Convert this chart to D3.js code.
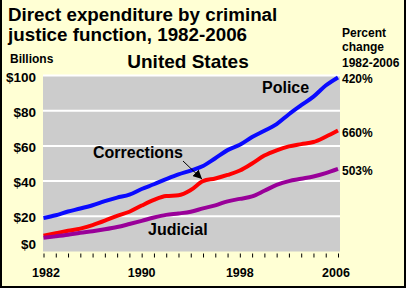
<!DOCTYPE html>
<html>
<head>
<meta charset="utf-8">
<script src="https://cdn.jsdelivr.net/npm/d3@7"></script>
<style>
  html, body { margin: 0; padding: 0; background: #ffffd4; }
  svg { display: block; font-family: "Liberation Sans", Arial, sans-serif; }
</style>
</head>
<body>
<div id="chart"></div>
<script>
// Données (milliards de dollars)
const annees = d3.range(1982, 2007);
const police = [19.0, 20.6, 22.7, 24.4, 26.3, 28.6, 30.6, 32.3, 35.5, 38.2, 41.1, 43.8, 46.0, 48.6, 53.0, 57.6, 60.6, 65.0, 68.6, 72.4, 78.0, 83.1, 88.0, 94.3, 98.9];
const corrections = [9.0, 10.4, 11.8, 13.0, 15.0, 17.5, 20.3, 22.6, 26.1, 29.3, 31.5, 31.9, 34.9, 40.0, 41.5, 43.5, 46.0, 50.0, 54.5, 57.5, 59.7, 61.0, 62.2, 65.2, 68.7];
const judicial = [7.8, 8.6, 9.5, 10.6, 11.5, 12.6, 13.9, 15.6, 17.4, 19.3, 20.8, 21.6, 22.6, 24.5, 26.2, 28.5, 29.9, 31.3, 34.5, 37.8, 40.0, 41.3, 42.6, 44.5, 46.9];
const seriesNoms = ["Police", "Corrections", "Judicial"];
const seriesCouleurs = ["#0a0aff", "#ff0000", "#990099"];
const pourcentages = ["420%", "660%", "503%"];
const ticksY = [0, 20, 40, 60, 80, 100];
const ticksAnnees = [1982, 1990, 1998, 2006];

const largeur = 406;
const hauteur = 288;

const svg = d3.select("#chart").append("svg")
    .attr("width", largeur)
    .attr("height", hauteur);

// Fond et bordure
svg.append("rect")
    .attr("width", largeur).attr("height", hauteur)
    .attr("fill", "#ffffd4");
svg.append("path")
    .attr("d", `M1,0 V${hauteur - 1} H${largeur - 1} V0`)
    .attr("fill", "none")
    .attr("stroke", "#000")
    .attr("stroke-width", 2);

// Echelles
const x = d3.scaleLinear().domain([1982, 2006]).range([43.5, 338]);
const y = d3.scaleLinear().domain([0, 100]).range([251.5, 75.5]);

// Zone grise
svg.append("rect")
    .attr("x", 43).attr("y", y(100))
    .attr("width", 340 - 43).attr("height", y(0) - y(100))
    .attr("fill", "#cccccc");

// Lignes de grille
svg.append("g")
    .selectAll("line")
    .data(ticksY.filter(d => d > 0))
    .enter()
    .append("line")
    .attr("x1", 43).attr("x2", 340)
    .attr("y1", d => y(d)).attr("y2", d => y(d))
    .attr("stroke", "#fff")
    .attr("stroke-width", 2);

// Etiquettes axe Y
svg.append("g")
    .selectAll("text")
    .data(ticksY)
    .enter()
    .append("text")
    .attr("x", 36)
    .attr("y", d => Math.min(y(d) + 6, 249))
    .attr("text-anchor", "end")
    .style("font-size", "13.5px")
    .style("font-weight", "bold")
    .text(d => "$" + d);

// Axe X (graduations)
const axeX = d3.axisBottom(x)
    .tickValues(annees)
    .tickSize(4)
    .tickSizeOuter(0)
    .tickFormat("");
const gAxe = svg.append("g")
    .attr("transform", `translate(0, 253.5)`)
    .call(axeX);
gAxe.select(".domain").remove();
gAxe.selectAll(".tick line").attr("stroke", "#000");

svg.append("g")
    .selectAll("text")
    .data(ticksAnnees)
    .enter()
    .append("text")
    .attr("x", d => x(d) + (d === 1982 ? 2.5 : (d === 2006 ? -2 : 0)))
    .attr("y", 276.5)
    .attr("text-anchor", "middle")
    .style("font-size", "12.5px")
    .style("font-weight", "bold")
    .text(d => d);

// Courbes
const ligne = d3.line()
    .x((d, i) => x(annees[i]))
    .y(d => y(d))
    .curve(d3.curveMonotoneX);

const donnees = [police, corrections, judicial];
svg.append("g")
    .selectAll("path")
    .data(donnees)
    .enter()
    .append("path")
    .attr("d", ligne)
    .attr("fill", "none")
    .attr("stroke", (d, i) => seriesCouleurs[i])
    .attr("stroke-width", 4);

// Etiquettes des séries
const positionsNoms = [[262, 93], [93, 158], [148, 235]];
svg.append("g")
    .selectAll("text")
    .data(seriesNoms)
    .enter()
    .append("text")
    .attr("x", (d, i) => positionsNoms[i][0])
    .attr("y", (d, i) => positionsNoms[i][1])
    .style("font-size", "16px")
    .style("font-weight", "bold")
    .text(d => d);

// Flèche Corrections
svg.append("defs").append("marker")
    .attr("id", "fleche")
    .attr("viewBox", "0 0 10 10")
    .attr("refX", 10).attr("refY", 5)
    .attr("markerWidth", 9).attr("markerHeight", 9)
    .attr("markerUnits", "userSpaceOnUse")
    .attr("orient", "auto")
    .append("path")
    .attr("d", "M0,0 L10,5 L0,10 Z")
    .attr("fill", "#000");
svg.append("line")
    .attr("x1", 183).attr("y1", 161)
    .attr("x2", x(1995) - 1).attr("y2", y(corrections[13]) - 2)
    .attr("stroke", "#000")
    .attr("stroke-width", 1)
    .attr("marker-end", "url(#fleche)");

// Pourcentages
const derniers = donnees.map(s => s[s.length - 1]);
svg.append("g")
    .selectAll("text")
    .data(pourcentages)
    .enter()
    .append("text")
    .attr("x", 342)
    .attr("y", (d, i) => y(derniers[i]) + 6)
    .style("font-size", "12px")
    .style("font-weight", "bold")
    .text(d => d);

// Titres
svg.append("text")
    .attr("x", 8).attr("y", 20.5)
    .style("font-size", "18.8px")
    .style("font-weight", "bold")
    .text("Direct expenditure by criminal");
svg.append("text")
    .attr("x", 8).attr("y", 40.5)
    .style("font-size", "18.8px")
    .style("font-weight", "bold")
    .text("justice function, 1982-2006");

svg.append("text")
    .attr("x", 188).attr("y", 68)
    .attr("text-anchor", "middle")
    .style("font-size", "19px")
    .style("font-weight", "bold")
    .text("United States");

svg.append("text")
    .attr("x", 10).attr("y", 62.5)
    .style("font-size", "12px")
    .style("font-weight", "bold")
    .text("Billions");

const legende = svg.append("text")
    .style("font-size", "12px")
    .style("font-weight", "bold");
["Percent", "change", "1982-2006"].forEach((t, i) => {
    legende.append("tspan").attr("x", 342).attr("y", [36.5, 50.5, 66.5][i]).text(t);
});
</script>
</body>
</html>
